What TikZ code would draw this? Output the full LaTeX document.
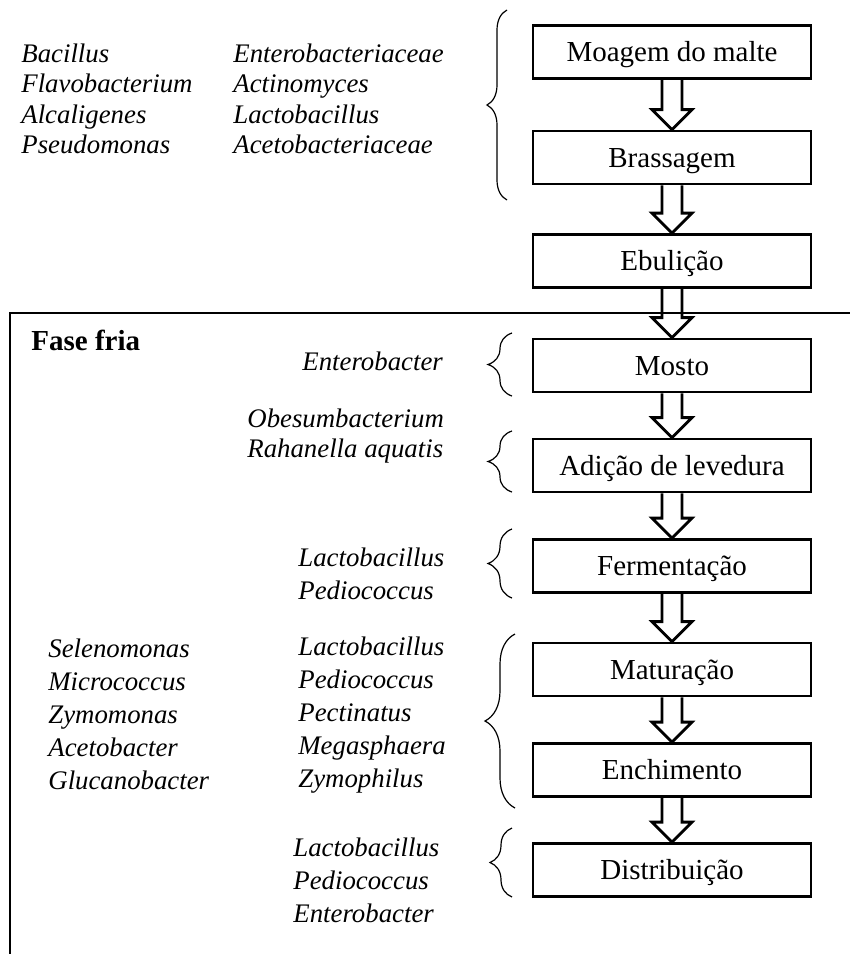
\documentclass[tikz,border=0pt]{standalone}
\usepackage{fontspec}
\setmainfont{Liberation Serif}
\usetikzlibrary{calc, decorations.pathreplacing}

\begin{document}
\begin{tikzpicture}[
  x=0.5pt, y=-0.5pt,
  stagebox/.style = {draw, line width=1.4pt, minimum width=139pt, minimum height=26.5pt,
                     inner sep=0pt, text height=9.5pt, text depth=0pt,
                     font=\fontsize{14.5}{17}\selectfont},
  genus/.style    = {align=left, anchor=base west, inner sep=0pt,
                     font=\fontsize{13.4}{16.5}\selectfont\itshape},
  flowarrow/.style = {line width=1.4pt, line join=miter},
  stagebrace/.style = {decorate, decoration={brace, amplitude=#1}, line width=0.6pt},
  frameline/.style = {line width=1.3pt}
]
  \useasboundingbox (0,0) rectangle (850,954);

  % Process stages
  \node[stagebox] (moagem)       at (672,52)    {Moagem do malte};
  \node[stagebox] (brassagem)    at (672,157.5) {Brassagem};
  \node[stagebox] (ebulicao)     at (672,261)   {Ebulição};
  \node[stagebox] (mosto)        at (672,365.5) {Mosto};
  \node[stagebox] (adicao)       at (672,465.5) {Adição de levedura};
  \node[stagebox] (fermentacao)  at (672,566)   {Fermentação};
  \node[stagebox] (maturacao)    at (672,669.5) {Maturação};
  \node[stagebox] (enchimento)   at (672,770)   {Enchimento};
  \node[stagebox] (distribuicao) at (672,870)   {Distribuição};

  % Hollow arrows between stages
  \foreach \a/\b in {moagem/brassagem, brassagem/ebulicao, ebulicao/mosto,
                     mosto/adicao, adicao/fermentacao, fermentacao/maturacao,
                     maturacao/enchimento, enchimento/distribuicao}
    \draw[flowarrow] ($(\a.south)+(-10,0)$) -- ($(\b.north)+(-10,-20)$)
      -- ($(\b.north)+(-20,-20)$) -- (\b.north) -- ($(\b.north)+(20,-20)$)
      -- ($(\b.north)+(10,-20)$) -- ($(\a.south)+(10,0)$);

  % Cold phase frame
  \draw[frameline] (850,313) -- (10,313) -- (10,954);
  \node[anchor=base west, inner sep=0pt, font=\fontsize{14.5}{17}\selectfont\bfseries]
    (fasefria) at (31,350) {Fase fria};

  % Braces
  \draw[stagebrace=10pt] (507,200) -- (507,10);
  \draw[stagebrace=12pt] (512,396) -- (512,333);
  \draw[stagebrace=12pt] (512,492) -- (512,431);
  \draw[stagebrace=12pt] (512,598) -- (512,529);
  \draw[stagebrace=15pt] (515,808) -- (515,634);
  \draw[stagebrace=11pt] (512,897) -- (512,828);

  % Microorganisms (placed at the baseline of the last line)
  \node[genus, font=\fontsize{13.4}{15.25}\selectfont\itshape] (quenteA) at (21,153.5)
    {Bacillus\\Flavobacterium\\Alcaligenes\\Pseudomonas};
  \node[genus, font=\fontsize{13.4}{15.25}\selectfont\itshape] (quenteB) at (233,153.5)
    {Enterobacteriaceae\\Actinomyces\\Lactobacillus\\Acetobacteriaceae};
  \node[genus] (gmosto) at (302,370) {Enterobacter};
  \node[genus, font=\fontsize{13.4}{15}\selectfont\itshape] (gadicao) at (247,457)
    {Obesumbacterium\\Rahanella aquatis};
  \node[genus] (gferm) at (298,599) {Lactobacillus\\Pediococcus};
  \node[genus] (gmatur) at (298,787)
    {Lactobacillus\\Pediococcus\\Pectinatus\\Megasphaera\\Zymophilus};
  \node[genus] (gfria) at (48,789)
    {Selenomonas\\Micrococcus\\Zymomonas\\Acetobacter\\Glucanobacter};
  \node[genus] (gdistr) at (293,922)
    {Lactobacillus\\Pediococcus\\Enterobacter};
\end{tikzpicture}
\end{document}
